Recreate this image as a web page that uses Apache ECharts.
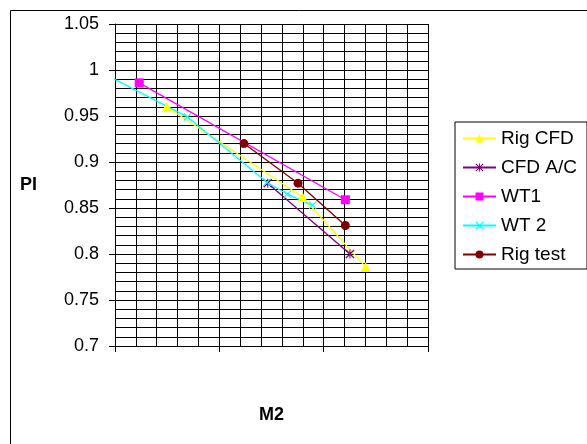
<!DOCTYPE html>
<html><head><meta charset="utf-8">
<script src="https://cdn.jsdelivr.net/npm/echarts@6/dist/echarts.min.js"></script>
<style>html,body{margin:0;padding:0;background:#fff}#c{width:587px;height:444px}</style>
</head><body><div id="c"></div>
<script>
// Data (x in grid units; the reference shows no x tick labels)
const seriesNames = ['Rig CFD', 'CFD A/C', 'WT1', 'WT 2', 'Rig test'];
const rigCfdX = [2.48, 8.99, 12.01];
const rigCfdY = [0.960, 0.862, 0.786];
const cfdAcX = [7.32, 11.26];
const cfdAcY = [0.877, 0.800];
const wt1X = [1.16, 11.04];
const wt1Y = [0.986, 0.859];
const wt2X = [-0.19, 3.47, 7.28, 8.26, 9.47];
const wt2Y = [0.992, 0.949, 0.878, 0.865, 0.853];
const rigTestX = [6.18, 8.77, 11.04];
const rigTestY = [0.920, 0.877, 0.831];
const xTitle = 'M2';
const yTitle = 'PI';

const FONT = '"Liberation Sans", Arial, sans-serif';
const xPath = 'path://M0,1 L1,0 L10,9 L9,10 Z M9,0 L10,1 L1,10 L0,9 Z';
const starPath = 'path://M0,1 L1,0 L10,9 L9,10 Z M9,0 L10,1 L1,10 L0,9 Z M4.4,0 L5.6,0 L5.6,10 L4.4,10 Z';

function pts(xs, ys) { return xs.map((x, i) => [x, ys[i]]); }

const wt2Data = pts(wt2X, wt2Y).map((p, i) => i === 0 ? { value: p, symbol: 'none' } : p);

const defs = [
  { name: seriesNames[0], data: pts(rigCfdX, rigCfdY), color: '#FFFF00', symbol: 'triangle', size: 10 },
  { name: seriesNames[1], data: pts(cfdAcX, cfdAcY), color: '#800080', symbol: starPath, size: 9 },
  { name: seriesNames[2], data: pts(wt1X, wt1Y), color: '#FF00FF', symbol: 'rect', size: 9 },
  { name: seriesNames[3], data: wt2Data, color: '#00FFFF', symbol: xPath, size: 8 },
  { name: seriesNames[4], data: pts(rigTestX, rigTestY), color: '#800000', symbol: 'circle', size: 9 }
];

const chart = echarts.init(document.getElementById('c'), null, { renderer: 'canvas' });
chart.setOption({
  backgroundColor: '#fff',
  animation: false,
  textStyle: { fontFamily: FONT },
  graphic: [{
    type: 'rect', left: 8, top: 8, silent: true,
    shape: { x: 0, y: 0, width: 620, height: 480 },
    style: { fill: 'none', stroke: '#000', lineWidth: 1 }
  }],
  grid: { left: 115, top: 24, width: 313, height: 322, containLabel: false },
  legend: {
    orient: 'vertical', left: 455, top: 122,
    padding: [7, 10, 5, 7],
    itemWidth: 33, itemHeight: 10, itemGap: 10,
    borderColor: '#000', borderWidth: 1,
    backgroundColor: '#fff',
    textStyle: { fontSize: 19, color: '#000', fontFamily: FONT, lineHeight: 19 },
    data: seriesNames
  },
  xAxis: {
    type: 'value', min: 0, max: 15, interval: 5,
    name: xTitle, nameLocation: 'middle', nameGap: 60,
    nameTextStyle: { fontSize: 18, fontWeight: 'bold', color: '#000', fontFamily: FONT },
    axisLine: { show: true, onZero: false, lineStyle: { color: '#000', width: 1 } },
    axisTick: { show: true, inside: false, length: 6, lineStyle: { color: '#000' } },
    axisLabel: { show: false },
    splitLine: { show: true, lineStyle: { color: '#000', width: 1 } },
    minorTick: { show: false, splitNumber: 5 },
    minorSplitLine: { show: true, lineStyle: { color: '#000', width: 1 } }
  },
  yAxis: {
    type: 'value', min: 0.7, max: 1.05, interval: 0.05,
    name: yTitle, nameLocation: 'middle', nameGap: 78, nameRotate: 0,
    nameTextStyle: { fontSize: 18, fontWeight: 'bold', color: '#000', fontFamily: FONT },
    axisLine: { show: true, onZero: false, lineStyle: { color: '#000', width: 1 } },
    axisTick: { show: true, inside: false, length: 6, lineStyle: { color: '#000' } },
    axisLabel: { fontSize: 18, color: '#000', margin: 16, fontFamily: FONT },
    splitLine: { show: true, lineStyle: { color: '#000', width: 1 } },
    minorTick: { show: false, splitNumber: 5 },
    minorSplitLine: { show: true, lineStyle: { color: '#000', width: 1 } }
  },
  series: defs.map(d => ({
    name: d.name, type: 'line', data: d.data,
    symbol: d.symbol, symbolSize: d.size, showSymbol: true,
    clip: false,
    lineStyle: { color: d.color, width: 1.3 },
    itemStyle: { color: d.color, borderWidth: 0 },
    emphasis: { disabled: true }
  }))
});
</script></body></html>
